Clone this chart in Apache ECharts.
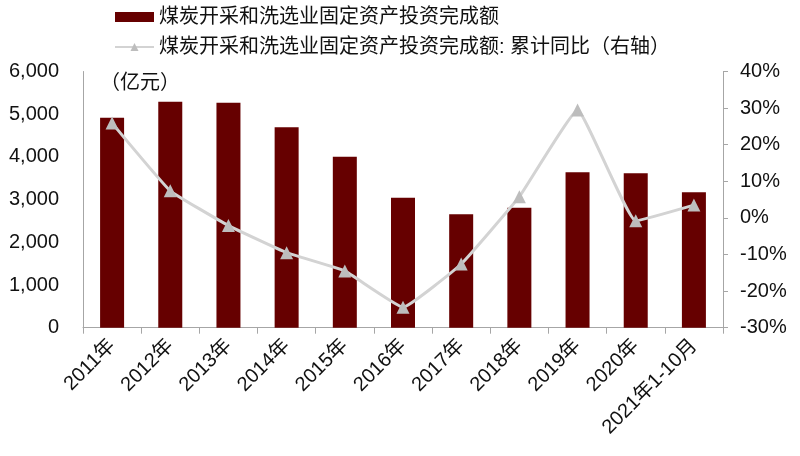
<!DOCTYPE html>
<html>
<head>
<meta charset="utf-8">
<script src="https://cdn.jsdelivr.net/npm/echarts@6/dist/echarts.min.js"></script>
<style>html,body{margin:0;padding:0;background:#fff;}#c{width:800px;height:456px;}</style>
</head>
<body>
<div id="c"></div>
<script>
var categories = ['2011年','2012年','2013年','2014年','2015年','2016年','2017年','2018年','2019年','2020年','2021年1-10月'];
var investment = [4918, 5293, 5269, 4693, 4005, 3045, 2656, 2810, 3639, 3616, 3171];
var yoyGrowth = [25.9, 7.4, -2.1, -9.5, -14.5, -24.4, -12.6, 5.8, 29.5, -0.8, 3.5];
var barName = '煤炭开采和洗选业固定资产投资完成额';
var lineName = '煤炭开采和洗选业固定资产投资完成额: 累计同比（右轴）';
var unitLabel = '（亿元）';

var FONT = "'Liberation Sans', Arial, 'Noto Sans CJK SC', sans-serif";
var chart = echarts.init(document.getElementById('c'));
chart.setOption({
  backgroundColor: '#ffffff',
  textStyle: { fontFamily: FONT },
  animation: false,
  legend: {
    orient: 'vertical',
    left: 109,
    top: 2,
    itemWidth: 39,
    itemHeight: 10,
    itemGap: 10,
    textStyle: { fontSize: 20, color: '#111', fontFamily: FONT },
    data: [
      { name: barName, icon: 'rect' },
      { name: lineName }
    ]
  },
  grid: { left: 83, right: 77, top: 71.5, bottom: 128.3, containLabel: false },
  graphic: [{
    type: 'text', left: 100, top: 73,
    style: { text: unitLabel, fontSize: 20, fill: '#111', fontFamily: FONT }
  }],
  xAxis: {
    type: 'category',
    data: categories,
    boundaryGap: true,
    axisLine: { lineStyle: { color: '#a6a6a6', width: 1 } },
    axisTick: { show: true, length: 6, lineStyle: { color: '#a6a6a6' } },
    axisLabel: { rotate: 45, fontSize: 20, color: '#111', margin: 15, interval: 0, fontFamily: FONT }
  },
  yAxis: [{
    type: 'value', min: 0, max: 6000, interval: 1000,
    axisLine: { show: true, lineStyle: { color: '#a6a6a6' } },
    axisTick: { show: false },
    splitLine: { show: false },
    axisLabel: {
      fontSize: 20, color: '#111', margin: 24, fontFamily: FONT,
      formatter: function (v) { return v.toLocaleString('en-US'); }
    }
  }, {
    type: 'value', min: -30, max: 40, interval: 10, position: 'right',
    axisLine: { show: true, lineStyle: { color: '#a6a6a6' } },
    axisTick: { show: true, length: 5, inside: false, lineStyle: { color: '#a6a6a6' } },
    splitLine: { show: false },
    axisLabel: { fontSize: 20, color: '#111', margin: 17, fontFamily: FONT, formatter: '{value}%' }
  }],
  series: [{
    name: barName,
    type: 'bar',
    data: investment,
    barWidth: 24,
    itemStyle: { color: '#660000' }
  }, {
    name: lineName,
    type: 'line',
    yAxisIndex: 1,
    data: yoyGrowth,
    smooth: 0.1,
    symbol: 'triangle',
    symbolSize: 13,
    lineStyle: { color: '#d3d3d3', width: 3 },
    itemStyle: { color: '#bdbdbd' },
    z: 5
  }]
});
</script>
</body>
</html>
